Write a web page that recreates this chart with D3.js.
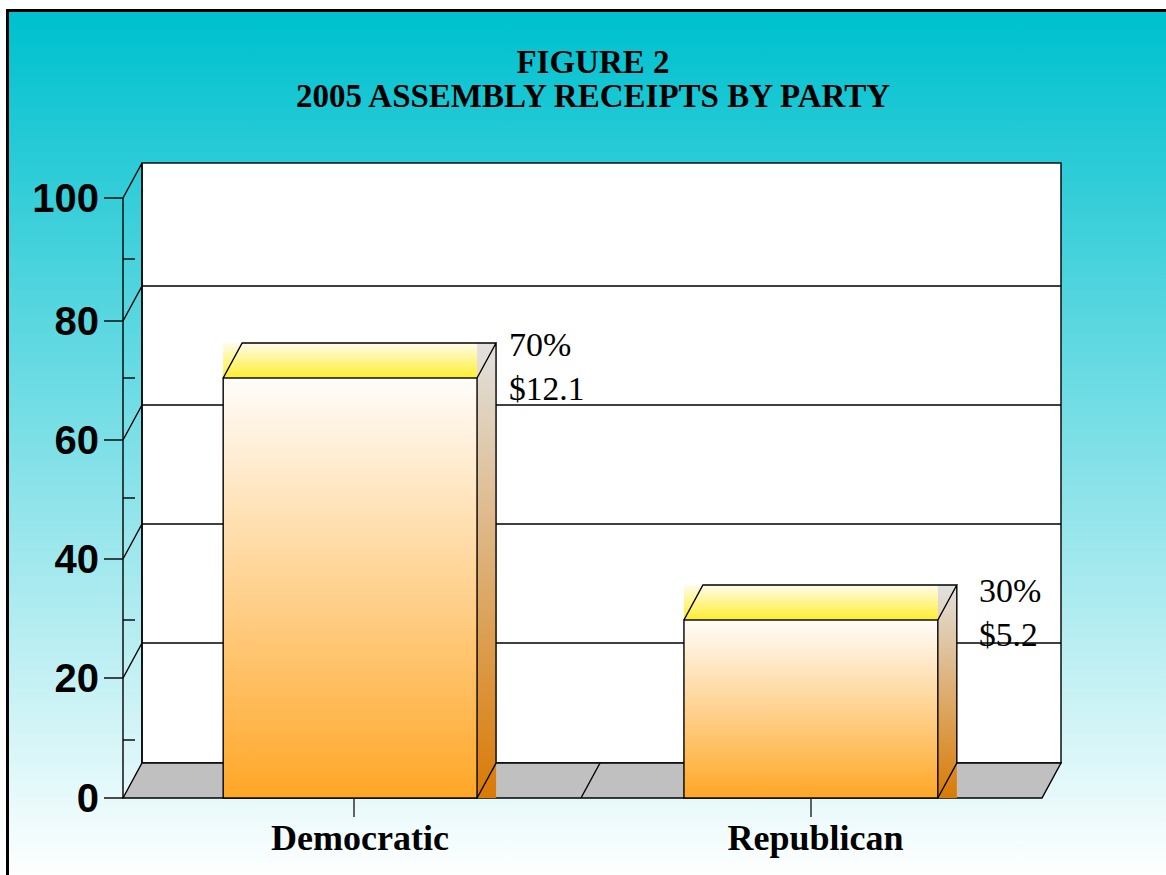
<!DOCTYPE html>
<html><head><meta charset="utf-8">
<script src="https://cdn.jsdelivr.net/npm/d3@7/dist/d3.min.js"></script>
<style>html,body{margin:0;padding:0;background:#fff;overflow:hidden}svg{display:block}</style>
</head><body><svg id="c" width="1166" height="875"></svg>
<script>
const titleLines = ["FIGURE 2", "2005 ASSEMBLY RECEIPTS BY PARTY"];
const categories = ["Democratic", "Republican"];
const shares = [70, 30];
const shareLabels = ["70%", "30%"];
const dollarLabels = ["$12.1", "$5.2"];
const majorTicks = [0, 20, 40, 60, 80, 100];
const minorTicks = [10, 30, 50, 70, 90];

const svg = d3.select("#c");
const SERIF = "'Liberation Serif','Times New Roman',serif", SANS = "'Liberation Sans',Arial,sans-serif";
const dx = 19, dy = -35;
const LW = 1.4;
// axis calibrated to the slightly uneven tick spacing of the picture
const y = d3.scaleLinear().domain(d3.range(0, 101, 10))
  .range([798, 740, 678, 620, 559, 498, 440, 378, 321, 259, 198]);
const x = d3.scaleBand().domain(categories).range([119.5, 1041.5]).paddingInner(0.449).paddingOuter(0.225);
const tickX = d3.scalePoint().domain(categories).range([354, 811]);
const labelX = d3.scalePoint().domain(categories).range([360, 815.5]);
const valueX = d3.scalePoint().domain(categories).range([509, 979]);
const shareY = d3.scalePoint().domain(categories).range([356, 602]);
const dollarY = d3.scalePoint().domain(categories).range([400, 646]);
const L = 123, R = 1042;

const defs = svg.append("defs");
function grad(id, stops) {
  const g = defs.append("linearGradient").attr("id", id).attr("x1", 0).attr("y1", 0).attr("x2", 0).attr("y2", 1);
  stops.forEach(([o, c]) => g.append("stop").attr("offset", o).attr("stop-color", c));
  return g;
}
grad("bg", [[0, "#00c1cf"], [1, "#ffffff"]]).attr("gradientUnits", "userSpaceOnUse").attr("y1", 20).attr("y2", 878);
grad("front", [[0, "#fffdfb"], [1, "#ffa726"]]);
grad("side", [[0, "#e2e1df"], [1, "#d97a04"]]);
grad("top", [[0, "#fffcec"], [1, "#ffee2e"]]);

svg.append("rect").attr("x", 7.5).attr("y", 10.5).attr("width", 1170).attr("height", 880)
  .attr("fill", "url(#bg)").attr("stroke", "#000").attr("stroke-width", 3);

// back wall
svg.append("rect").attr("x", L + dx).attr("y", y(100) + dy).attr("width", R - L).attr("height", y(0) - y(100))
  .attr("fill", "#fff").attr("stroke", "#000").attr("stroke-width", LW);
// gridlines on back wall with diagonals on the side wall
svg.append("g").selectAll("line").data(majorTicks.filter(d => d > 0 && d < 100)).join("line")
  .attr("x1", L + dx).attr("x2", R + dx).attr("y1", d => y(d) + dy).attr("y2", d => y(d) + dy)
  .attr("stroke", "#000").attr("stroke-width", LW);
svg.append("g").selectAll("line").data(majorTicks.filter(d => d > 0)).join("line")
  .attr("x1", L).attr("x2", L + dx).attr("y1", d => y(d)).attr("y2", d => y(d) + dy)
  .attr("stroke", "#000").attr("stroke-width", LW);

// floor
svg.append("path").attr("d", d3.line()([[L, y(0)], [L + dx, y(0) + dy], [R + dx, y(0) + dy], [R, y(0)]]) + "Z")
  .attr("fill", "#c0c0c0").attr("stroke", "#000").attr("stroke-width", LW);
const mid = (L + R) / 2 - 1.5;
svg.append("line").attr("x1", mid).attr("x2", mid + dx).attr("y1", y(0)).attr("y2", y(0) + dy)
  .attr("stroke", "#000").attr("stroke-width", LW);

// axis lines and ticks
svg.append("line").attr("x1", L).attr("x2", L).attr("y1", y(100)).attr("y2", y(0)).attr("stroke", "#000").attr("stroke-width", LW);
svg.append("line").attr("x1", L + dx).attr("x2", L + dx).attr("y1", y(100) + dy).attr("y2", y(0) + dy).attr("stroke", "#000").attr("stroke-width", LW);
svg.append("g").selectAll("line").data(majorTicks).join("line")
  .attr("x1", L - 19).attr("x2", L).attr("y1", d => y(d)).attr("y2", d => y(d)).attr("stroke", "#000").attr("stroke-width", LW);
svg.append("g").selectAll("line").data(minorTicks).join("line")
  .attr("x1", L).attr("x2", L + 12).attr("y1", d => y(d)).attr("y2", d => y(d)).attr("stroke", "#000").attr("stroke-width", LW);
svg.append("g").selectAll("text").data(majorTicks).join("text")
  .attr("x", 99).attr("y", d => y(d) + 14).attr("text-anchor", "end")
  .attr("font-family", SANS).attr("font-weight", 700).attr("font-size", 40).attr("fill", "#000").text(d => d);

// bars
const bars = svg.append("g").selectAll("g").data(categories.map((c, i) => ({ c, v: shares[i], i }))).join("g");
bars.append("rect").attr("x", d => x(d.c)).attr("y", d => y(d.v) + dy).attr("width", x.bandwidth()).attr("height", -dy).attr("fill", "url(#top)");
bars.append("rect").attr("x", d => x(d.c) + x.bandwidth()).attr("y", d => y(d.v) + dy).attr("width", dx).attr("height", d => y(0) - y(d.v) - dy).attr("fill", "url(#side)");
bars.append("rect").attr("x", d => x(d.c)).attr("y", d => y(d.v)).attr("width", x.bandwidth()).attr("height", d => y(0) - y(d.v)).attr("fill", "url(#front)").attr("stroke", "#000").attr("stroke-width", LW);
bars.append("path").attr("fill", "none").attr("stroke", "#000").attr("stroke-width", LW).attr("d", d => {
  const a = x(d.c), b = a + x.bandwidth(), t = y(d.v), z = y(0);
  return d3.line()([[a, t], [a + dx, t + dy], [b + dx, t + dy], [b, t]]) + d3.line()([[b + dx, t + dy], [b + dx, z + dy], [b, z]]);
});
bars.append("text").attr("x", d => valueX(d.c)).attr("y", d => shareY(d.c))
  .attr("font-family", SERIF).attr("font-size", 34).attr("fill", "#000").text(d => shareLabels[d.i]);
bars.append("text").attr("x", d => valueX(d.c)).attr("y", d => dollarY(d.c))
  .attr("font-family", SERIF).attr("font-size", 33.5).attr("fill", "#000").text(d => dollarLabels[d.i]);

// category axis
svg.append("g").selectAll("line").data(categories).join("line")
  .attr("x1", d => tickX(d)).attr("x2", d => tickX(d)).attr("y1", y(0)).attr("y2", y(0) + 19).attr("stroke", "#222").attr("stroke-width", LW);
svg.append("g").selectAll("text").data(categories).join("text")
  .attr("x", d => labelX(d)).attr("y", 850).attr("text-anchor", "middle")
  .attr("font-family", SERIF).attr("font-weight", 700).attr("font-size", 36).attr("fill", "#000").text(d => d);

// title
svg.append("g").selectAll("text").data(titleLines).join("text")
  .attr("x", 593).attr("y", (d, i) => 73 + i * 34).attr("text-anchor", "middle")
  .attr("font-family", SERIF).attr("font-weight", 700).attr("font-size", 33).attr("fill", "#000").text(d => d);
</script></body></html>
